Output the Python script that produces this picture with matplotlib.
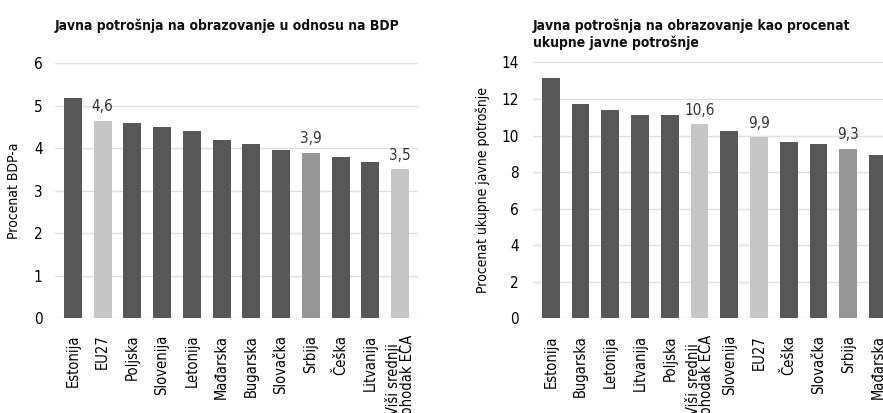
import matplotlib
matplotlib.use('Agg')
import matplotlib.pyplot as plt
from matplotlib import font_manager

# Font: look for any condensed / narrow sans face
cands = [f for f in font_manager.fontManager.ttflist
         if ('condensed' in f.fname.lower() or 'narrow' in f.fname.lower())
         and 'mono' not in f.fname.lower() and 'serif' not in f.fname.lower()]
if cands:
    plt.rcParams['font.family'] = [cands[0].name, 'DejaVu Sans']
    plt.rcParams['font.stretch'] = cands[0].stretch
    cond = True
else:
    plt.rcParams['font.family'] = ['Liberation Sans', 'DejaVu Sans']
    cond = False

# Data - left panel (% of GDP)
left_countries = ['Estonija', 'EU27', 'Poljska', 'Slovenija', 'Letonija', 'Mađarska',
                  'Bugarska', 'Slovačka', 'Srbija', 'Češka', 'Litvanija',
                  'Viši srednji\ndohodak ECA']
left_values = [5.17, 4.65, 4.58, 4.49, 4.41, 4.19, 4.09, 3.95, 3.89, 3.78, 3.68, 3.51]
left_labels = {1: '4,6', 8: '3,9', 11: '3,5'}

# Data - right panel (% of total public spending)
right_countries = ['Estonija', 'Bugarska', 'Letonija', 'Litvanija', 'Poljska',
                   'Viši srednji\ndohodak ECA', 'Slovenija', 'EU27', 'Češka',
                   'Slovačka', 'Srbija', 'Mađarska']
right_values = [13.15, 11.75, 11.4, 11.12, 11.12, 10.63, 10.25, 9.92, 9.62, 9.52, 9.28, 8.95]
right_labels = {5: '10,6', 7: '9,9', 10: '9,3'}

DARK = '#575757'
LIGHT = '#c6c6c6'
MID = '#969696'

fs = 10.5 if cond else 9.5


def bar_color(name):
    if name == 'Srbija':
        return MID
    if name in ('EU27', 'Viši srednji\ndohodak ECA'):
        return LIGHT
    return DARK


def draw(ax, countries, values, labels, ymax, step, ylabel, title, title_y, ypad):
    x = range(len(countries))
    ax.bar(x, values, width=0.6, color=[bar_color(c) for c in countries], zorder=3)
    for i, txt in labels.items():
        ax.text(i, values[i] + ymax * 0.025, txt, ha='center', va='bottom',
                fontsize=fs + 0.5, color='#333333')
    ax.set_ylim(0, ymax)
    ax.set_xlim(-0.6, len(countries) - 0.4)
    ax.set_yticks(range(0, ymax + 1, step))
    ax.set_xticks(list(x))
    ax.set_xticklabels(countries, rotation=90, fontsize=fs, linespacing=0.9)
    ax.tick_params(axis='x', length=0, pad=12)
    ax.tick_params(axis='y', length=0, pad=ypad, labelsize=fs + 0.5)
    ax.grid(axis='y', color='#e0e0e0', linewidth=1, zorder=0)
    for s in ['top', 'right', 'left', 'bottom']:
        ax.spines[s].set_visible(False)
    ax.set_ylabel(ylabel, fontsize=fs - 0.5)
    ax.text(0.0, title_y, title, transform=ax.transAxes, fontsize=fs - 0.5,
            fontweight='bold', ha='left', va='bottom', color='#111111',
            linespacing=1.15)


fig = plt.figure(figsize=(8.83, 4.13), dpi=100)
ax1 = fig.add_axes([0.0623, 0.230, 0.411, 0.617])
ax2 = fig.add_axes([0.6036, 0.229, 0.411, 0.620])

draw(ax1, left_countries, left_values, left_labels, 6, 1, 'Procenat BDP-a',
     'Javna potrošnja na obrazovanje u odnosu na BDP', 1.12, 9)
draw(ax2, right_countries, right_values, right_labels, 14, 2,
     'Procenat ukupne javne potrošnje',
     'Javna potrošnja na obrazovanje kao procenat\nukupne javne potrošnje', 1.05, 10)
ax1.yaxis.labelpad = 9
ax2.yaxis.labelpad = 8

fig.savefig('out.png', dpi=100)
